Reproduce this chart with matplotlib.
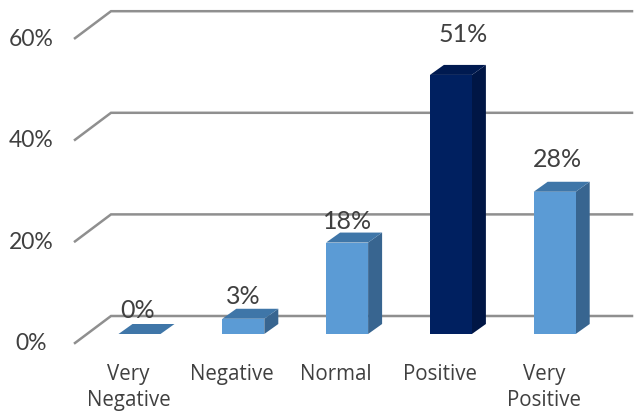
import matplotlib; matplotlib.use("Agg"); import matplotlib.pyplot as plt
from matplotlib.patches import Polygon

categories=["Very\nNegative","Negative","Normal","Positive","Very\nPositive"]
values=[0,3,18,51,28]
grid_values=[0,20,40,60]
highlight="Positive"

plt.rcParams["font.family"]=["Lato","DejaVu Sans"]
PX_X=103.8; PX_Y=5.08   # pixels per category / per percent
W=640; H=417
fig=plt.figure(figsize=(W/100,H/100),dpi=100)
ax=fig.add_axes([0,0,1,1])
ax.set_xlim(-139.5/PX_X,(W-139.5)/PX_X)
ax.set_ylim(-(H-334)/PX_Y,334/PX_Y)
ax.axis("off")

bar_w=42/PX_X; dx=14/PX_X; dy=10/PX_Y
# floor offsets of the 3d box: wall line and front edge relative to the bar base
wall_dy=18/PX_Y; front_dy=-9/PX_Y
x_front=(75-139.5)/PX_X; x_back=(111-139.5)/PX_X; x_end=(632-139.5)/PX_X

for g in grid_values:
    ax.plot([x_front,x_back,x_end],[g+front_dy,g+wall_dy,g+wall_dy],color="#8f8f8f",lw=1.8,
            solid_joinstyle="miter",zorder=1)
    ax.text((31-139.5)/PX_X,g+front_dy-1/PX_Y,f"{g}%",ha="center",va="center",fontsize=16.5,color="#404040",zorder=5)

label_off=[24,22,21,40,32]
label_dx=[-2,0,0,12,3]
for i,(c,v) in enumerate(zip(categories,values)):
    l=i-bar_w/2; r=i+bar_w/2
    if c==highlight:
        front,side,top="#002060","#001645","#001a50"
    else:
        front,side,top="#5b9bd5","#386590","#3f76a8"
    if v>0:
        ax.add_patch(Polygon([(r,0),(r+dx,dy),(r+dx,v+dy),(r,v)],fc=side,ec="none",zorder=2))
        ax.add_patch(Polygon([(l,0),(r,0),(r,v),(l,v)],fc=front,ec="none",zorder=3))
    ax.add_patch(Polygon([(l,v),(r,v),(r+dx,v+dy),(l+dx,v+dy)],fc=top,ec="none",zorder=3))
    ax.text(i+label_dx[i]/PX_X,v+label_off[i]/PX_Y,f"{v}%",ha="center",va="center",fontsize=18,color="#404040",zorder=5)
    ax.text(i-11/PX_X,-(364-334)/PX_Y,c,ha="center",va="top",fontsize=14.8,family=["Open Sans","DejaVu Sans"],
            color="#404040",zorder=5,linespacing=1.3)

fig.savefig("out.png",dpi=100)
